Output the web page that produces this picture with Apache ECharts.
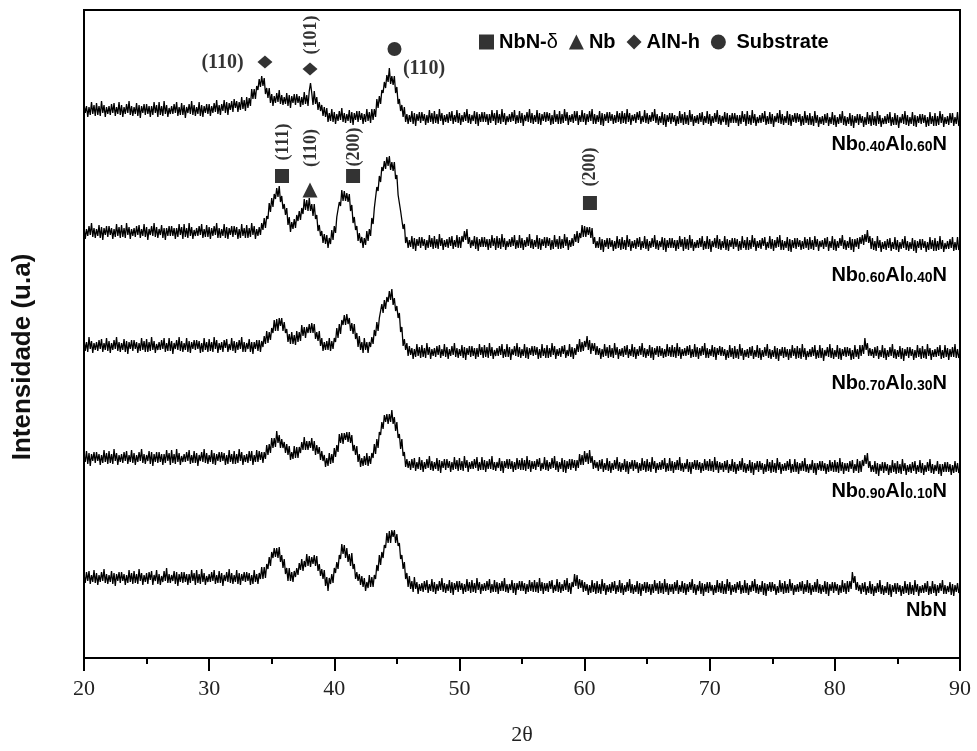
<!DOCTYPE html>
<html>
<head>
<meta charset="utf-8">
<title>XRD NbAlN</title>
<script src="https://cdn.jsdelivr.net/npm/echarts@6/dist/echarts.min.js"></script>
<style>
  html, body { margin: 0; padding: 0; background: #ffffff; }
  #chart { width: 977px; height: 751px; }
</style>
</head>
<body>
<div id="chart"></div>
<script>
// 2θ scan range; every pattern is sampled evenly across it (0.1° step)
const thetaStart = 20;
const thetaEnd = 90;
const xTickStep = 10;

// Diffractograms (stacked, arbitrary units), top to bottom; one row = 1°
const nb40al60 = [
  554,545,552,541,551,543,556,544,553,542,
  555,543,552,542,557,545,553,541,551,544,
  552,543,554,545,555,542,551,544,556,543,
  553,541,551,544,554,545,557,543,552,542,
  551,544,555,542,553,540,552,545,554,543,
  554,544,552,541,552,543,556,545,553,541,
  556,543,552,542,557,544,553,541,550,544,
  552,544,554,545,556,542,551,543,555,543,
  553,540,551,545,554,544,557,543,553,542,
  551,544,556,542,553,541,552,545,554,544,
  554,542,552,545,555,546,558,544,553,543,
  554,547,558,545,556,543,555,548,557,546,
  559,550,557,546,556,548,561,549,558,547,
  561,550,560,552,569,559,569,559,572,568,
  579,571,582,572,580,564,570,560,570,555,
  564,552,562,555,565,556,568,554,563,553,
  561,554,565,552,563,550,562,555,564,553,
  564,555,562,551,561,553,566,554,563,552,
  567,575,565,553,567,554,561,548,556,547,
  553,542,551,541,550,536,545,537,549,536,
  546,534,544,537,547,538,550,536,545,535,
  544,537,548,535,546,533,545,538,547,536,
  547,538,545,534,544,536,549,537,546,535,
  549,538,549,541,559,550,562,554,568,565,
  576,570,583,576,590,574,582,573,582,565,
  571,554,559,547,553,541,551,536,544,534,
  543,536,547,534,545,532,544,537,546,535,
  546,537,544,533,543,535,548,536,545,534,
  547,535,544,534,549,537,545,533,543,536,
  544,535,546,537,547,534,543,536,548,535,
  545,533,543,536,546,537,549,535,544,534,
  543,537,547,534,546,532,544,536,546,536,
  546,536,544,533,544,535,548,537,545,533,
  548,535,544,534,549,536,545,533,542,536,
  544,536,546,537,548,534,543,535,547,535,
  545,532,543,537,546,536,549,535,545,534,
  543,536,548,534,545,533,544,537,546,536,
  546,537,545,533,543,534,548,536,544,534,
  547,534,544,535,549,537,546,533,543,536,
  544,535,547,537,547,533,543,536,548,536,
  545,533,544,536,547,537,549,534,544,534,
  543,536,547,533,545,532,544,537,546,535,
  546,537,544,534,543,535,547,536,545,534,
  547,535,545,534,549,536,545,533,543,537,
  544,535,546,538,547,534,542,536,548,535,
  545,534,543,536,546,537,549,535,544,533,
  542,535,546,533,544,531,543,536,545,534,
  545,536,543,532,542,534,547,535,544,533,
  546,534,543,533,548,536,544,532,542,535,
  543,534,545,536,546,533,542,535,547,534,
  544,532,542,535,545,536,548,534,543,533,
  542,536,546,533,545,531,543,535,545,535,
  545,535,543,532,543,534,547,536,544,532,
  547,534,543,533,548,535,544,532,541,535,
  543,535,545,536,547,533,542,534,546,534,
  544,531,542,536,545,535,548,534,544,533,
  542,535,547,533,544,532,543,536,545,535,
  545,536,544,532,542,533,547,535,543,533,
  545,533,542,532,547,535,543,531,541,534,
  542,533,544,535,545,532,541,534,546,533,
  543,531,541,534,544,535,547,533,542,532,
  541,534,545,532,543,530,542,535,544,533,
  544,535,542,531,541,533,546,534,543,532,
  546,533,542,532,547,534,543,531,540,534,
  542,534,544,535,546,532,541,533,545,533,
  543,530,541,535,544,534,547,533,543,532,
  541,534,546,532,543,531,542,535,544,534,
  544,535,543,531,541,532,546,534,542,532,
  545,532,542,533,547,535,544,531,541,534,
  542,533,545,535,545,532,541,534,546,532,
  538
];

const nb60al40 = [
  431,419,429,422,432,423,435,421,430,420,
  429,422,433,420,431,418,430,423,432,421,
  432,423,430,419,429,421,434,422,431,420,
  433,421,430,420,435,423,431,419,429,422,
  430,421,432,423,433,420,429,422,434,421,
  431,418,429,423,432,422,435,421,431,420,
  429,423,433,420,430,418,430,422,432,422,
  432,422,430,419,430,421,434,423,431,419,
  434,421,430,420,435,422,431,419,428,422,
  430,422,432,423,434,420,429,421,433,421,
  431,419,430,422,432,423,435,420,430,420,
  429,422,434,420,431,419,430,423,432,421,
  432,423,431,419,429,420,434,422,430,420,
  433,420,430,421,435,423,432,419,429,422,
  431,423,435,428,440,430,442,439,455,446,
  460,451,464,459,470,461,472,456,462,449,
  454,443,450,433,441,426,436,429,439,430,
  443,437,447,438,450,444,459,448,458,447,
  460,447,454,442,454,439,443,427,433,422,
  427,415,424,414,423,410,420,414,428,418,
  432,425,441,440,456,452,468,457,467,457,
  465,456,464,447,453,435,441,428,432,417,
  425,415,421,410,420,413,427,417,429,422,
  440,434,450,448,471,467,482,476,491,487,
  497,489,501,492,502,488,496,487,496,479,
  483,463,464,447,447,429,434,415,421,410,
  418,411,422,409,420,407,419,412,421,410,
  421,412,419,408,418,410,423,411,420,409,
  422,410,419,409,424,412,420,408,418,411,
  419,410,421,412,422,409,418,411,423,410,
  421,410,422,416,427,418,429,414,421,410,
  418,412,422,409,421,407,419,411,421,411,
  421,411,419,408,419,410,423,412,420,408,
  422,410,420,409,424,411,420,408,417,411,
  419,411,421,412,423,409,418,410,423,410,
  420,408,418,411,421,412,424,410,419,409,
  418,411,423,409,420,408,419,412,421,410,
  421,412,420,408,418,409,423,411,419,409,
  422,409,419,410,424,412,421,408,418,411,
  420,412,424,416,427,415,425,420,433,421,
  432,421,431,423,431,420,430,414,421,410,
  417,410,421,408,419,406,418,411,420,409,
  420,411,418,407,417,409,422,410,419,408,
  421,409,418,408,423,411,419,407,417,410,
  418,409,420,411,421,408,417,410,422,409,
  419,407,417,410,420,411,423,409,418,408,
  417,411,421,408,420,406,418,410,420,410,
  420,410,418,407,418,409,422,411,419,407,
  421,409,419,408,423,410,419,407,416,410,
  418,410,420,411,422,408,417,409,422,409,
  419,406,417,411,420,410,423,409,419,408,
  417,410,422,408,419,407,418,411,420,409,
  420,411,419,407,417,408,422,410,418,408,
  421,408,418,409,423,411,420,407,417,410,
  418,409,420,412,421,408,416,410,422,409,
  419,407,418,410,421,411,423,408,418,408,
  417,410,421,407,419,406,418,410,420,409,
  420,411,418,408,417,409,421,410,419,408,
  421,409,418,408,422,411,419,407,417,411,
  418,409,420,411,421,407,417,410,422,408,
  419,407,417,410,420,412,423,409,418,408,
  417,410,421,408,419,406,419,411,420,409,
  421,414,423,413,424,416,428,415,422,409,
  420,408,417,407,422,410,418,406,416,409,
  417,408,419,410,420,407,416,409,421,408,
  418,406,416,409,419,410,422,408,417,407,
  416,409,420,407,418,405,417,410,419,408,
  419,410,417,406,416,408,421,409,418,407,
  420,407,417,408,422,409,418,406,415,409,
  417,409,419,410,421,407,416,408,421,408,
  414
];

const nb70al30 = [
  319,307,316,306,321,309,317,305,315,308,
  316,307,318,309,319,306,315,308,320,307,
  317,305,315,308,318,309,321,307,316,306,
  315,308,319,306,317,304,316,309,318,307,
  318,309,316,305,315,307,320,308,317,306,
  319,306,316,307,321,308,317,305,314,308,
  316,308,318,309,320,306,315,307,320,307,
  317,304,315,309,318,308,321,307,317,306,
  315,308,320,306,317,305,316,309,318,308,
  318,309,317,305,315,306,320,308,316,306,
  319,307,316,306,321,309,318,305,315,308,
  316,306,318,310,319,306,314,308,320,307,
  317,305,316,308,318,309,321,306,316,306,
  315,309,319,306,316,304,316,309,318,307,
  318,306,317,311,322,314,327,315,326,318,
  330,325,338,327,339,327,340,332,340,327,
  336,325,329,316,324,314,326,314,323,313,
  327,316,326,317,333,322,331,320,331,325,
  334,325,335,325,334,319,326,317,327,312,
  320,307,316,308,317,308,320,307,317,309,
  320,316,330,320,334,324,338,333,343,333,
  344,334,340,327,335,324,334,319,325,311,
  322,308,316,305,320,308,316,305,316,311,
  321,314,328,322,336,327,340,338,354,345,
  358,349,361,356,367,358,369,353,360,347,
  352,340,345,326,331,312,319,308,315,302,
  312,303,310,299,309,301,314,302,311,300,
  313,301,310,300,315,303,311,299,309,302,
  310,301,312,303,313,300,309,302,314,301,
  311,299,309,302,312,303,315,301,310,300,
  309,302,313,300,311,298,310,303,312,301,
  312,302,310,299,310,301,314,303,311,300,
  313,301,311,300,315,302,311,299,308,302,
  310,302,312,303,314,300,309,301,314,301,
  311,298,309,303,312,302,315,301,311,300,
  309,302,314,300,311,299,310,303,312,302,
  312,303,311,299,309,300,314,302,310,300,
  313,300,310,301,315,303,312,299,309,302,
  310,301,312,304,313,300,308,302,314,301,
  311,299,310,303,314,306,319,306,316,307,
  317,311,322,308,318,304,315,307,315,303,
  312,303,310,299,309,301,314,302,311,300,
  313,301,310,300,315,303,311,299,309,302,
  310,301,312,303,313,300,309,302,314,301,
  311,299,309,302,312,303,315,301,310,300,
  309,302,313,300,311,298,310,303,312,301,
  312,302,310,300,309,301,314,302,311,301,
  313,301,311,300,315,302,311,299,309,302,
  310,302,312,303,313,300,309,301,314,301,
  311,299,310,302,312,303,315,300,310,300,
  309,302,313,301,311,298,310,303,312,302,
  311,302,309,298,308,300,313,301,310,299,
  312,300,309,299,314,302,310,298,308,301,
  309,300,311,302,312,299,308,301,313,300,
  310,298,308,301,311,302,314,300,309,299,
  308,301,312,299,310,297,309,302,311,300,
  311,301,309,298,309,300,313,302,310,299,
  312,300,310,299,314,301,310,298,307,301,
  309,301,311,302,313,299,308,300,313,300,
  310,297,308,302,311,301,314,300,310,299,
  308,301,313,299,310,298,309,302,311,301,
  311,302,310,298,308,299,313,301,309,299,
  313,302,313,304,320,308,315,302,310,302,
  309,300,311,302,312,299,308,301,313,300,
  310,298,308,301,311,302,314,300,309,299,
  308,301,312,299,310,297,309,302,311,300,
  311,302,309,298,308,300,313,301,310,299,
  312,300,309,299,314,302,310,298,308,301,
  309,301,311,302,313,299,308,300,313,301,
  310,298,309,301,311,301,314,300,309,300,
  306
];

const nb90al10 = [
  203,196,207,194,205,192,204,197,206,195,
  206,197,204,193,203,195,208,196,205,194,
  207,195,204,194,209,197,205,193,203,196,
  204,195,206,197,207,194,203,196,208,195,
  205,193,203,196,206,197,209,195,204,194,
  203,197,207,194,206,192,204,196,206,195,
  206,196,204,193,204,195,208,197,205,193,
  208,195,204,194,209,196,205,193,202,196,
  204,196,206,197,208,194,203,195,207,195,
  205,192,203,197,206,196,209,195,205,194,
  203,196,208,194,205,193,204,197,206,196,
  206,197,205,193,203,194,208,196,204,194,
  207,194,204,195,209,197,206,193,203,196,
  204,195,207,197,207,193,203,196,208,196,
  207,198,206,195,206,199,213,203,214,205,
  220,210,220,211,227,215,223,210,219,210,
  216,205,214,203,212,198,206,199,212,200,
  211,200,211,205,216,208,221,208,217,208,
  217,210,220,207,217,203,213,204,211,198,
  207,197,203,191,200,192,205,194,204,195,
  210,201,213,206,224,215,225,214,225,218,
  226,216,226,215,223,207,213,203,212,196,
  204,191,200,192,202,193,205,192,202,194,
  205,200,214,204,219,210,226,223,236,229,
  243,236,244,234,244,236,248,234,241,227,
  236,220,224,209,219,202,206,191,199,190,
  197,188,199,190,200,187,196,189,201,188,
  198,186,196,189,199,190,202,188,197,187,
  196,189,200,187,198,185,197,190,199,188,
  199,190,197,186,196,188,201,189,198,187,
  200,188,197,187,202,190,198,186,196,189,
  197,189,199,190,201,187,196,188,201,188,
  198,186,197,189,199,189,202,188,196,187,
  196,190,200,187,197,185,197,190,199,189,
  199,189,197,186,196,188,200,189,198,188,
  200,188,198,187,202,189,198,186,197,189,
  197,188,199,191,200,187,195,189,201,188,
  198,187,196,189,200,190,202,188,197,186,
  196,189,200,186,198,185,197,189,199,188,
  199,190,198,187,198,190,204,193,203,193,
  207,196,205,194,208,195,202,189,198,190,
  196,187,198,189,199,186,195,188,200,187,
  197,185,195,188,198,189,201,187,196,186,
  195,188,199,186,197,184,196,189,198,187,
  198,189,196,185,195,187,200,188,197,186,
  199,187,196,186,201,189,197,185,195,188,
  196,188,198,189,200,186,195,187,200,187,
  197,185,196,188,198,188,201,187,195,186,
  195,189,199,186,196,184,196,189,198,188,
  198,188,196,185,195,187,199,188,197,187,
  199,187,197,186,201,188,197,185,196,188,
  195,186,197,188,198,185,194,187,199,186,
  196,184,194,187,197,188,200,186,195,185,
  194,187,198,185,196,183,195,188,197,186,
  197,188,195,184,194,186,199,187,196,185,
  198,186,195,185,200,188,196,184,194,187,
  195,187,197,188,199,185,194,186,199,186,
  196,184,195,187,197,187,200,186,194,185,
  194,188,198,185,195,183,195,188,197,187,
  197,187,195,184,194,186,198,187,196,186,
  198,186,196,185,200,187,196,184,195,187,
  195,186,197,189,198,185,194,187,199,185,
  197,186,198,192,203,194,205,190,197,186,
  193,186,197,184,195,182,194,187,196,185,
  196,187,194,183,193,185,198,186,195,184,
  197,185,194,184,199,187,195,183,193,186,
  194,185,196,187,197,184,193,186,198,185,
  195,183,193,186,196,187,199,185,194,184,
  193,187,197,184,194,182,194,186,196,186,
  196,186,194,183,193,185,197,186,195,185,
  191
];

const nbN = [
  84,75,86,77,87,74,83,76,88,75,
  85,73,83,76,86,77,89,75,84,74,
  83,76,87,74,85,72,84,77,86,75,
  86,77,84,73,83,75,88,76,85,74,
  87,75,84,74,89,77,85,73,83,76,
  85,74,86,78,87,73,83,77,88,74,
  84,73,82,76,87,77,90,75,84,75,
  83,77,87,74,86,72,84,76,86,75,
  86,76,84,73,84,75,88,77,85,73,
  88,75,84,74,89,76,85,73,82,76,
  84,76,86,77,88,74,83,75,87,75,
  85,72,83,77,86,76,89,75,85,74,
  83,76,88,74,85,73,84,77,86,76,
  86,77,85,73,83,74,88,76,84,74,
  85,79,91,79,91,80,94,89,101,92,
  106,100,110,101,110,100,111,96,103,90,
  99,84,90,77,90,77,86,76,87,81,
  90,83,95,88,99,87,97,91,104,92,
  102,91,101,94,103,92,102,87,94,82,
  89,79,88,72,81,67,80,74,84,75,
  90,85,96,89,103,99,114,104,113,100,
  110,96,104,92,105,89,94,79,86,77,
  84,73,82,71,80,67,76,70,83,71,
  81,71,83,79,93,87,103,93,106,100,
  113,110,125,115,127,115,128,121,128,115,
  124,112,115,99,103,89,96,79,85,71,
  82,69,77,66,81,69,76,64,74,67,
  75,66,77,68,78,65,74,67,79,66,
  76,64,74,67,77,68,80,66,75,65,
  74,67,78,65,76,63,75,68,77,66,
  77,68,75,64,74,66,79,67,76,65,
  78,66,75,65,80,68,76,64,74,67,
  75,67,77,68,79,65,74,66,78,66,
  76,64,75,67,77,67,80,66,74,65,
  74,68,78,65,75,63,75,68,77,67,
  77,67,75,64,74,66,78,67,76,66,
  78,66,76,65,80,67,76,64,75,67,
  75,66,77,69,78,65,73,67,79,66,
  76,65,74,67,78,68,80,66,75,64,
  76,71,84,72,83,69,79,70,78,66,
  76,67,74,63,73,65,78,66,75,64,
  77,65,74,64,79,67,75,63,73,66,
  74,65,76,67,77,64,73,66,78,65,
  75,63,73,66,76,67,79,65,74,64,
  73,66,77,64,75,62,74,67,76,65,
  76,66,74,63,74,65,78,67,75,64,
  77,65,75,64,79,66,75,63,74,66,
  74,64,76,67,78,64,73,66,77,65,
  75,63,74,66,76,68,79,65,74,63,
  73,67,77,64,75,62,74,66,76,65,
  76,67,73,63,73,65,78,66,75,65,
  77,64,74,64,79,67,76,63,73,66,
  74,65,76,68,77,64,73,65,78,65,
  75,63,73,66,77,67,79,65,74,64,
  73,66,77,63,75,62,74,67,76,66,
  76,67,74,63,72,65,78,66,75,64,
  77,65,74,65,79,67,75,63,73,66,
  74,66,76,67,77,64,74,66,78,65,
  75,63,73,66,76,66,79,65,74,64,
  73,66,77,64,76,62,74,67,76,65,
  76,67,74,63,73,65,78,66,75,64,
  77,66,77,69,86,75,82,68,76,67,
  73,64,75,66,76,63,72,65,77,64,
  74,62,72,65,75,66,78,64,73,63,
  72,65,76,63,74,61,73,66,75,64,
  75,66,73,62,72,64,77,65,74,63,
  76,64,73,63,78,66,74,62,72,65,
  73,65,75,66,77,63,72,64,77,65,
  74,62,73,65,75,67,78,64,73,64,
  72,66,76,63,74,62,73,66,75,65,
  70
];

// Sample compositions: [Nb fraction, Al fraction] (null = pure NbN)
const sampleNames = ['Nb0.40Al0.60N', 'Nb0.60Al0.40N', 'Nb0.70Al0.30N', 'Nb0.90Al0.10N', 'NbN'];
const sampleFractions = [['0.40', '0.60'], ['0.60', '0.40'], ['0.70', '0.30'], ['0.90', '0.10'], null];
const patterns = [nb40al60, nb60al40, nb70al30, nb90al10, nbN];

// Identified phases and the reflections marked on the patterns
const phases = ['NbN-δ', 'Nb', 'AlN-h', 'Substrate'];
const phaseMarks = {
  'NbN-δ':     [[35.82, 482], [41.50, 482], [60.43, 455]],
  'Nb':        [[38.06, 468]],
  'AlN-h':     [[34.46, 596], [38.06, 589]],
  'Substrate': [[44.81, 609]]
};
const hklLabels = [
  { text: '(110)', at: [31.07, 595], vertical: false },
  { text: '(101)', at: [38.18, 623], vertical: true },
  { text: '(110)', at: [47.17, 589], vertical: false },
  { text: '(111)', at: [35.90, 516], vertical: true },
  { text: '(110)', at: [38.18, 510], vertical: true },
  { text: '(200)', at: [41.58, 511], vertical: true },
  { text: '(200)', at: [60.43, 491], vertical: true }
];

const SANS = "'Liberation Sans', Arial, 'DejaVu Sans', sans-serif";
const SERIF = "'Liberation Serif', 'Times New Roman', serif";

function toPairs(arr) {
  const n = arr.length;
  const step = (thetaEnd - thetaStart) / (n - 1);
  return arr.map((v, i) => [thetaStart + i * step, v]);
}

const phaseSymbols = {
  'NbN-δ': { symbol: 'rect', size: 14 },
  'Nb': { symbol: 'triangle', size: 15 },
  'AlN-h': { symbol: 'diamond', size: [15, 13] },
  'Substrate': { symbol: 'circle', size: 14 }
};

const lineSeries = patterns.map((arr, k) => ({
  name: sampleNames[k],
  type: 'line',
  data: toPairs(arr),
  showSymbol: false,
  symbol: 'none',
  silent: true,
  sampling: null,
  lineStyle: { color: '#000', width: 1.3 },
  z: 3
}));

const markSeries = phases.map(p => ({
  name: p,
  type: 'scatter',
  data: phaseMarks[p],
  symbol: phaseSymbols[p].symbol,
  symbolSize: phaseSymbols[p].size,
  itemStyle: { color: '#000' },
  z: 5
}));

const hklSeries = {
  name: 'hkl',
  type: 'scatter',
  symbol: 'circle',
  symbolSize: 1,
  itemStyle: { color: 'rgba(0,0,0,0)' },
  z: 6,
  data: hklLabels.map(h => ({
    value: h.at,
    label: {
      show: true,
      position: 'inside',
      formatter: h.text,
      rotate: h.vertical ? 90 : 0,
      fontFamily: SERIF,
      fontWeight: 'bold',
      fontSize: h.vertical ? 18 : 20,
      color: '#000'
    }
  }))
};

function sampleLabelText(k) {
  const f = sampleFractions[k];
  if (!f) return '{m|NbN}';
  return '{m|Nb}{s|' + f[0] + '}{m|Al}{s|' + f[1] + '}{m|N}';
}
const sampleLabelY = [144, 275, 383, 491, 610];

const chart = echarts.init(document.getElementById('chart'), null, { renderer: 'canvas' });

chart.setOption({
  animation: false,
  backgroundColor: '#ffffff',
  grid: {
    left: 84, right: 17, top: 10, bottom: 93,
    show: true, borderColor: '#000', borderWidth: 2, backgroundColor: 'transparent'
  },
  legend: {
    data: phases.map(p => ({ name: p, icon: phaseSymbols[p].symbol })),
    left: 474, top: 27,
    itemWidth: 15, itemHeight: 15, itemGap: 11,
    selectedMode: false,
    formatter: name => name === 'NbN-δ' ? 'NbN-{n|δ}' : (name === 'Substrate' ? ' Substrate' : name),
    textStyle: {
      fontFamily: SANS, fontWeight: 'bold', fontSize: 20, color: '#000',
      rich: { n: { fontFamily: SANS, fontWeight: 'normal', fontSize: 20, color: '#000' } }
    }
  },
  xAxis: {
    type: 'value',
    min: thetaStart, max: thetaEnd, interval: xTickStep,
    name: '2θ',
    nameLocation: 'middle',
    nameGap: 66,
    nameTextStyle: { fontFamily: SERIF, fontSize: 22, color: '#222' },
    axisLine: { show: true, onZero: false, lineStyle: { color: '#000', width: 2 } },
    axisTick: { show: true, inside: false, length: 13, lineStyle: { color: '#000', width: 2 } },
    minorTick: { show: true, splitNumber: 2, length: 6, lineStyle: { color: '#000', width: 2 } },
    axisLabel: { margin: 20, fontFamily: SERIF, fontSize: 22, color: '#222' },
    splitLine: { show: false }
  },
  yAxis: {
    type: 'value',
    min: 0, max: 648,
    name: 'Intensidade (u.a)',
    nameLocation: 'middle',
    nameGap: 48,
    nameTextStyle: { fontFamily: SANS, fontWeight: 'bold', fontSize: 26, color: '#111', padding: [0, 46, 0, 0] },
    axisLine: { show: true, onZero: false, lineStyle: { color: '#000', width: 2 } },
    axisTick: { show: false },
    axisLabel: { show: false },
    splitLine: { show: false }
  },
  graphic: sampleNames.map((n, k) => ({
    type: 'text',
    x: 947,
    y: sampleLabelY[k],
    silent: true,
    style: {
      text: sampleLabelText(k),
      align: 'right',
      verticalAlign: 'middle',
      rich: {
        m: { fontFamily: SANS, fontWeight: 'bold', fontSize: 20, fill: '#000', verticalAlign: 'bottom' },
        s: { fontFamily: SANS, fontWeight: 'bold', fontSize: 14, fill: '#000', verticalAlign: 'bottom' }
      }
    }
  })),
  series: lineSeries.concat(markSeries, [hklSeries])
});
</script>
</body>
</html>
